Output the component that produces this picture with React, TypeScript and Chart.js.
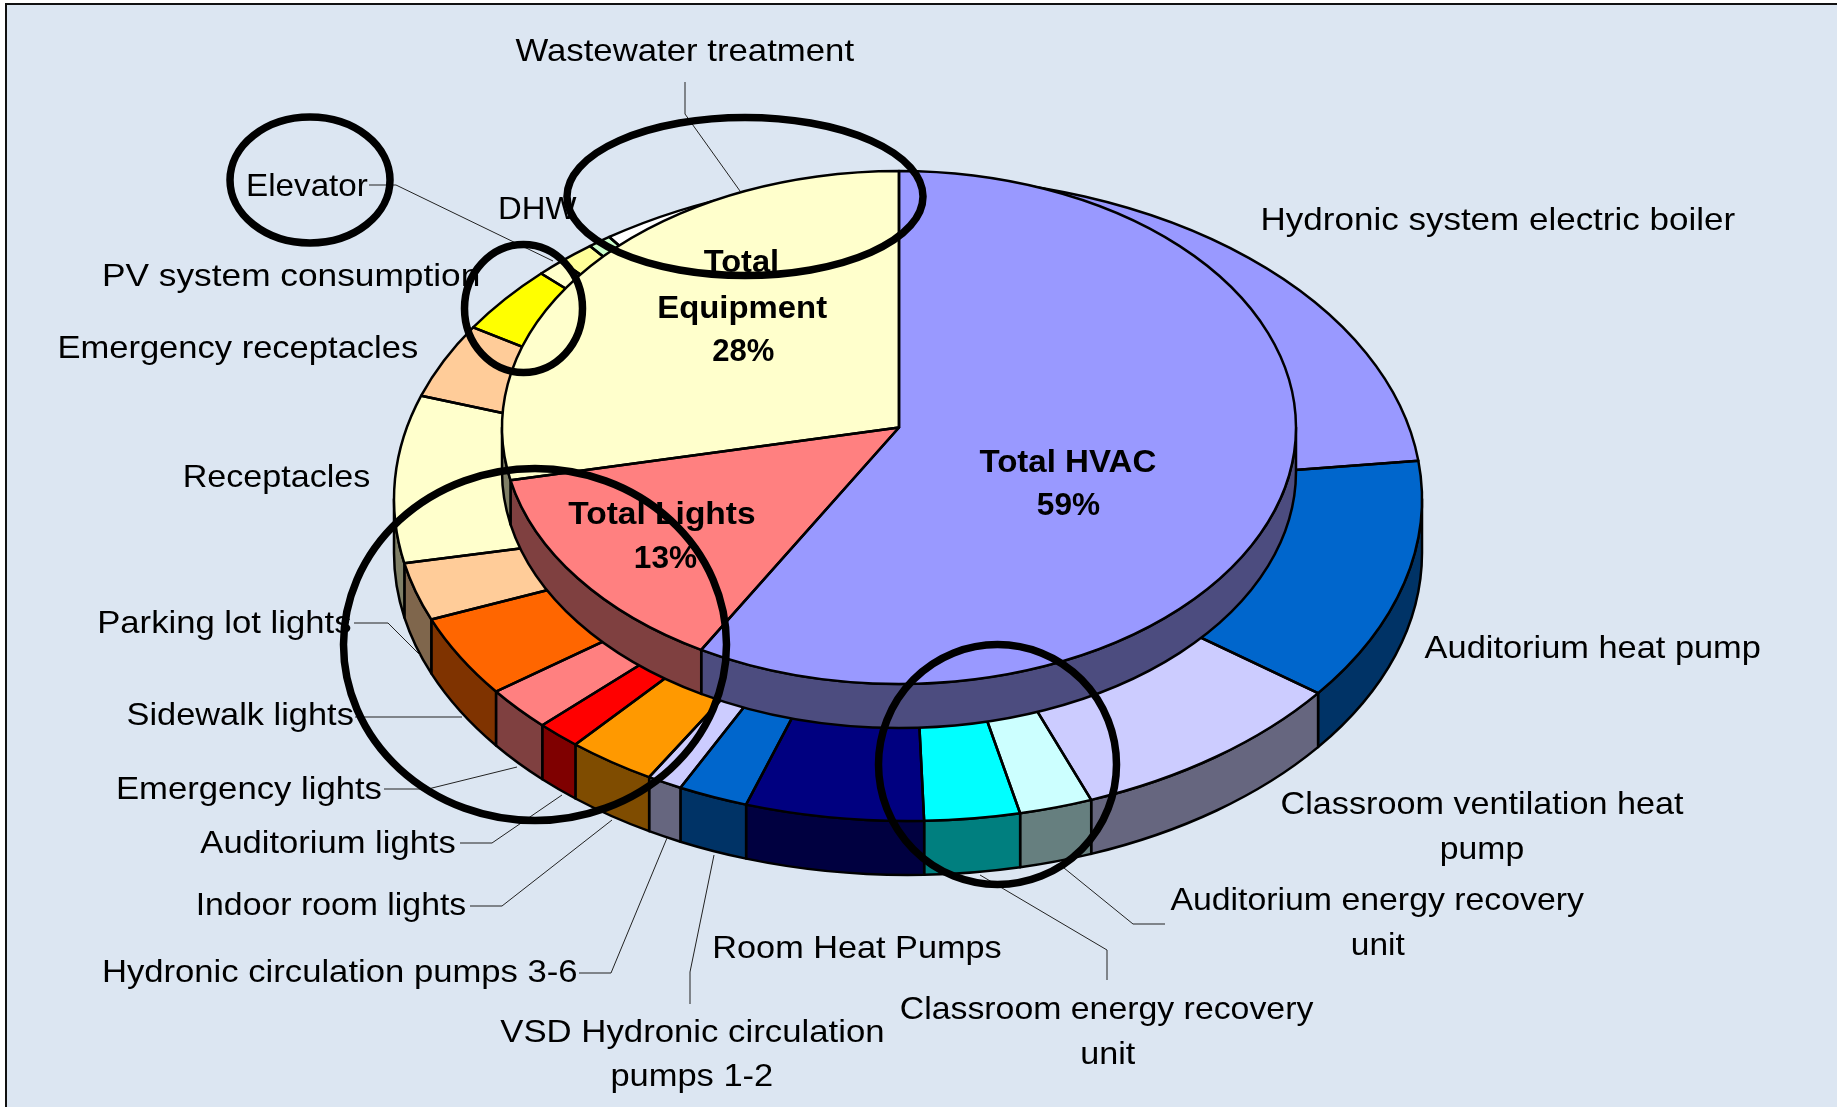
import React, { useEffect, useRef } from "react";
import { Chart, registerables } from "chart.js";

Chart.register(...registerables);

const WIDTH = 1837;
const HEIGHT = 1107;
const K = 1837 / 1568;

// ---- data ----
const detailCategories = [
  "Hydronic system electric boiler",
  "Auditorium heat pump",
  "Classroom ventilation heat pump",
  "Auditorium energy recovery unit",
  "Classroom energy recovery unit",
  "Room Heat Pumps",
  "VSD Hydronic circulation pumps 1-2",
  "Hydronic circulation pumps 3-6",
  "Indoor room lights",
  "Auditorium lights",
  "Emergency lights",
  "Sidewalk lights",
  "Parking lot lights",
  "Receptacles",
  "Emergency receptacles",
  "PV system consumption",
  "Elevator",
  "DHW",
  "Unlabeled",
  "Wastewater treatment",
];
const detailValues = [
  23.1, 12.2, 8.9, 2.3, 3.0, 5.6, 2.2, 1.1, 2.8, 1.4, 2.2, 4.1, 2.9, 8.4, 3.75, 3.4, 0.86, 1.17, 0.75, 9.87,
];
const detailColors = [
  "#9999FF", "#0066CC", "#CCCCFF", "#CCFFFF", "#00FFFF", "#000080", "#0066CC", "#CCCCFF", "#FF9900", "#FF0000",
  "#FF8080", "#FF6600", "#FFCC99", "#FFFFCC", "#FFCC99", "#FFFF00", "#FFFFCC", "#FFFF99", "#CCFFCC", "#FFFFFF",
];
const totalCategories = ["Total HVAC", "Total Lights", "Total Equipment"];
const totalValues = [58.3, 13.4, 28.3];
const totalColors = ["#9999FF", "#FF8080", "#FFFFCC"];

// ---- layout (reference pixels) ----
const OUTER = { cx: 908, cy: 499, rx: 514, ry: 322, depth: 54 };
const INNER = { cx: 899, cy: 427.5, rx: 397, ry: 256.5, depth: 44 };
const BG = "#DCE6F2";
const FONT = '"Liberation Sans", Arial, sans-serif';
const EDGE_WIDTH = 2.5;

// [text, left, right, baseline] in the 1568-wide view of the reference
const calloutLabels: [string, number, number, number][] = [
  ["Wastewater treatment", 440, 729, 52],
  ["Hydronic system electric boiler", 1076, 1481, 196],
  ["Auditorium heat pump", 1216, 1503, 562],
  ["Classroom ventilation heat", 1093, 1437, 695],
  ["pump", 1229, 1301, 733],
  ["Auditorium energy recovery", 999, 1352, 777],
  ["unit", 1153, 1199, 815],
  ["Classroom energy recovery", 768, 1121, 870],
  ["unit", 922, 969, 908],
  ["Room Heat Pumps", 608, 855, 818],
  ["VSD Hydronic circulation", 427, 755, 889],
  ["pumps 1-2", 521, 660, 927],
  ["Hydronic circulation pumps 3-6", 87, 493, 838],
  ["Indoor room lights", 167, 398, 781],
  ["Auditorium lights", 171, 389, 728],
  ["Emergency lights", 99, 326, 682],
  ["Sidewalk lights", 108, 302, 619],
  ["Parking lot lights", 83, 300, 540],
  ["Receptacles", 156, 316, 416],
  ["Emergency receptacles", 49, 357, 306],
  ["PV system consumption", 87, 410, 244],
  ["Elevator", 210, 314, 167],
  ["DHW", 425, 492, 187],
];
const totalLabels: [string, number, number, number][] = [
  ["Total", 600.6, 665, 232],
  ["Equipment", 561, 706, 271.5],
  ["28%", 608, 661, 308],
  ["Total Lights", 485, 645, 447],
  ["13%", 541, 595, 485],
  ["Total HVAC", 836, 987, 403],
  ["59%", 885, 939, 440],
];
const leaderLines: [number, number][][] = [
  [[685, 82], [685, 114], [740, 191]],
  [[369, 185], [396, 185], [553, 261]],
  [[354, 623], [388, 623], [420, 655]],
  [[355, 717], [462, 717]],
  [[384, 789], [428, 789], [517, 767]],
  [[460, 843], [492, 843], [562, 795]],
  [[470, 906], [502, 906], [612, 820]],
  [[579, 973], [611, 973], [667, 838]],
  [[690, 1004], [690, 972], [714, 855]],
  [[980, 875], [1107, 950], [1107, 980]],
  [[1064, 868], [1133, 924], [1165, 924]],
];
// hand-drawn rings: cx, cy, rx, ry
const highlightRings: [number, number, number, number][] = [
  [310, 180, 80, 63],
  [745, 196.5, 178, 79],
  [523.5, 308.5, 59, 64],
  [535, 644.5, 191.5, 176],
  [997.5, 764.5, 119, 120],
];

function halfShade(hex: string): string {
  const n = parseInt(hex.slice(1), 16);
  const r = (n >> 16) & 255;
  const g = (n >> 8) & 255;
  const b = n & 255;
  return `rgb(${r >> 1},${g >> 1},${b >> 1})`;
}

type Geo = { cx: number; cy: number; rx: number; ry: number; depth: number };

function tiltedPie(geo: Geo) {
  return {
    id: "tiltedPie",
    beforeDatasetsDraw(chart: any) {
      const ctx = chart.ctx as CanvasRenderingContext2D;
      const arcs = chart.getDatasetMeta(0).data;
      const colors = chart.data.datasets[0].backgroundColor as string[];
      ctx.save();
      arcs.forEach((arc: any, i: number) => {
        const t0 = Math.max(arc.startAngle, 0);
        const t1 = Math.min(arc.endAngle, Math.PI);
        if (t1 <= t0) return;
        ctx.beginPath();
        ctx.ellipse(geo.cx, geo.cy + geo.depth, geo.rx, geo.ry, 0, t0, t1);
        ctx.ellipse(geo.cx, geo.cy, geo.rx, geo.ry, 0, t1, t0, true);
        ctx.closePath();
        ctx.fillStyle = halfShade(colors[i]);
        ctx.fill();
        ctx.lineWidth = EDGE_WIDTH;
        ctx.lineJoin = "round";
        ctx.strokeStyle = "#000";
        ctx.stroke();
      });
      ctx.restore();
      const first = arcs[0];
      ctx.save();
      ctx.translate(geo.cx, geo.cy);
      ctx.scale(1, geo.ry / geo.rx);
      ctx.translate(-first.x, -first.y);
    },
    afterDatasetsDraw(chart: any) {
      const ctx = chart.ctx as CanvasRenderingContext2D;
      ctx.restore();
      // slice outlines with an even line width all round the tilted pie
      ctx.save();
      ctx.lineWidth = EDGE_WIDTH;
      ctx.lineJoin = "round";
      ctx.strokeStyle = "#000";
      chart.getDatasetMeta(0).data.forEach((arc: any) => {
        ctx.beginPath();
        ctx.moveTo(geo.cx, geo.cy);
        ctx.ellipse(geo.cx, geo.cy, geo.rx, geo.ry, 0, arc.startAngle, arc.endAngle);
        ctx.closePath();
        ctx.stroke();
      });
      ctx.restore();
    },
  };
}

const backdrop = {
  id: "backdrop",
  beforeDraw(chart: any) {
    const ctx = chart.ctx as CanvasRenderingContext2D;
    ctx.save();
    ctx.fillStyle = "#FFFFFF";
    ctx.fillRect(0, 0, WIDTH, HEIGHT);
    ctx.fillStyle = BG;
    ctx.fillRect(6, 3, WIDTH, HEIGHT);
    ctx.fillStyle = "#111";
    ctx.fillRect(5, 3, WIDTH, 2);
    ctx.fillRect(5, 3, 2, HEIGHT);
    ctx.restore();
  },
};

function drawStretched(ctx: CanvasRenderingContext2D, item: [string, number, number, number]) {
  const [text, x0, x1, base] = item;
  const w = ctx.measureText(text).width;
  ctx.save();
  ctx.translate(x0 * K, base * K);
  ctx.scale(((x1 - x0) * K) / w, 1);
  ctx.fillText(text, 0, 0);
  ctx.restore();
}

const annotations = {
  id: "annotations",
  afterDraw(chart: any) {
    const ctx = chart.ctx as CanvasRenderingContext2D;
    ctx.save();
    ctx.strokeStyle = "#222";
    ctx.lineWidth = 1;
    leaderLines.forEach((pts) => {
      ctx.beginPath();
      pts.forEach(([x, y], i) => (i ? ctx.lineTo(x, y) : ctx.moveTo(x, y)));
      ctx.stroke();
    });
    ctx.fillStyle = "#000";
    ctx.textBaseline = "alphabetic";
    ctx.textAlign = "left";
    ctx.font = `32px ${FONT}`;
    calloutLabels.forEach((l) => drawStretched(ctx, l));
    ctx.font = `bold 32px ${FONT}`;
    totalLabels.forEach((l) => drawStretched(ctx, l));
    ctx.strokeStyle = "#000";
    ctx.lineWidth = 7.5;
    highlightRings.forEach(([x, y, rx, ry]) => {
      ctx.beginPath();
      ctx.ellipse(x, y, rx, ry, 0, 0, Math.PI * 2);
      ctx.stroke();
    });
    ctx.restore();
  },
};

function pieConfig(labels: string[], data: number[], colors: string[], geo: Geo, plugins: any[]) {
  return {
    type: "pie" as const,
    data: {
      labels,
      datasets: [
        {
          data,
          backgroundColor: colors,
          borderColor: colors,
          borderWidth: 0,
          clip: false,
        },
      ],
    },
    options: {
      responsive: false,
      animation: false as const,
      devicePixelRatio: 1,
      radius: geo.rx,
      layout: { padding: 0 },
      plugins: { legend: { display: false }, tooltip: { enabled: false }, title: { display: false } },
    },
    plugins: [...plugins, tiltedPie(geo)],
  };
}

const canvasStyle: React.CSSProperties = { position: "absolute", left: 0, top: 0, display: "block" };

export default function App() {
  const baseRef = useRef<HTMLCanvasElement>(null);
  const topRef = useRef<HTMLCanvasElement>(null);

  useEffect(() => {
    const base = new Chart(
      baseRef.current!,
      pieConfig(detailCategories, detailValues, detailColors, OUTER, [backdrop]) as any
    );
    const top = new Chart(
      topRef.current!,
      pieConfig(totalCategories, totalValues, totalColors, INNER, [annotations]) as any
    );
    return () => {
      base.destroy();
      top.destroy();
    };
  }, []);

  return (
    <div style={{ position: "absolute", left: 0, top: 0, width: WIDTH, height: HEIGHT, overflow: "hidden" }}>
      <canvas ref={baseRef} width={WIDTH} height={HEIGHT} style={canvasStyle} />
      <canvas ref={topRef} width={WIDTH} height={HEIGHT} style={canvasStyle} />
    </div>
  );
}
